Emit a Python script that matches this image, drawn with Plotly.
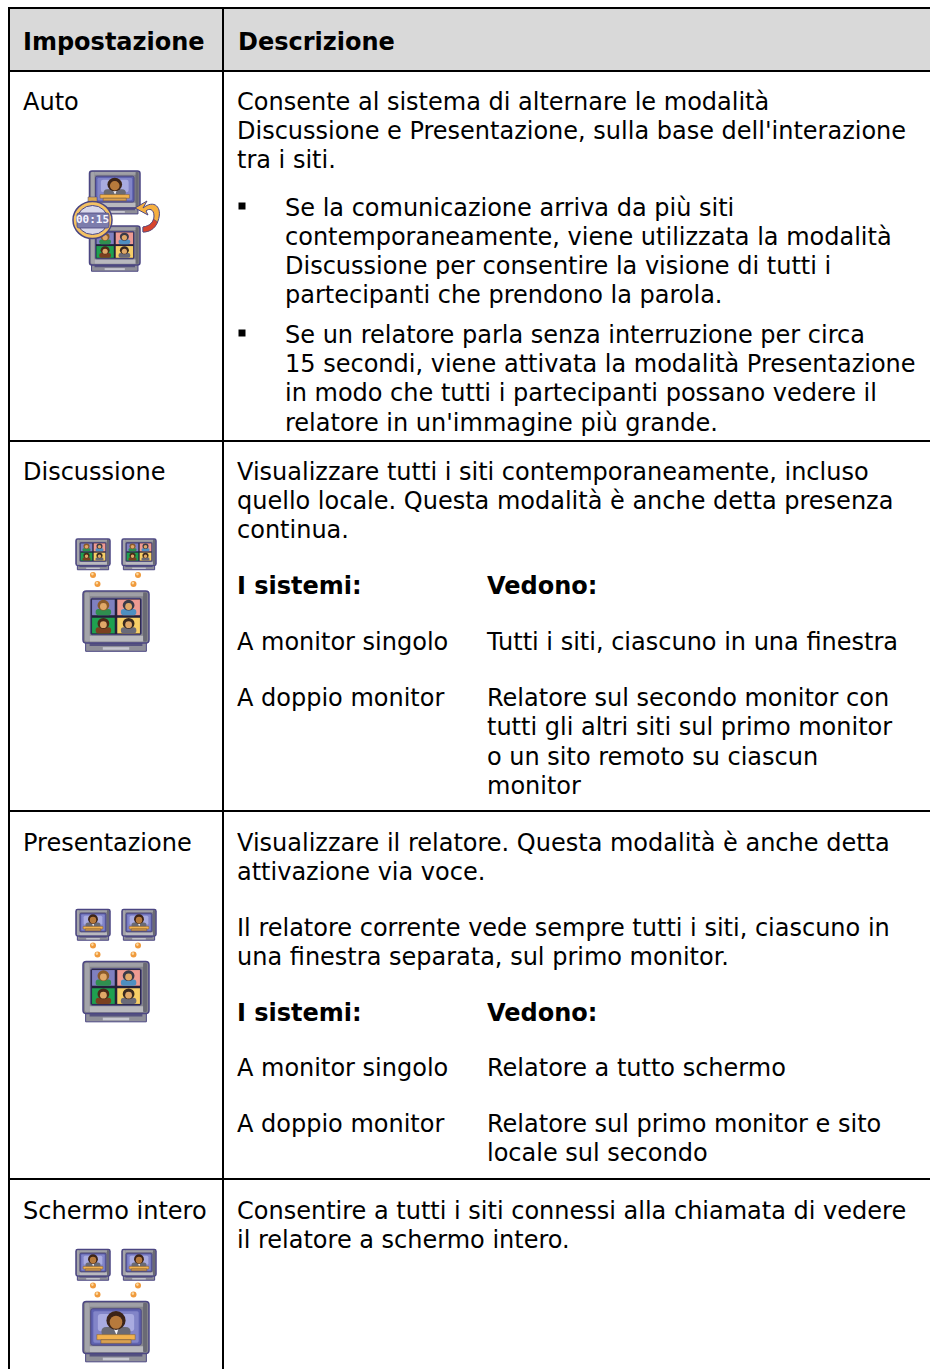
import plotly.graph_objects as go

W, H = 930, 1369
FONT = "DejaVu Sans"
SIZE = 24
TEXT_DY = 3.5

# --- table content -------------------------------------------------------
header_labels = ["Impostazione", "Descrizione"]
header_x = [23, 238]
header_y = [40, 40]

setting_labels = ["Auto", "Discussione", "Presentazione", "Schermo intero"]
setting_x = [23, 23, 23, 23]
setting_y = [100, 470, 841, 1209]

body_lines = [
    "Consente al sistema di alternare le modalità",
    "Discussione e Presentazione, sulla base dell'interazione",
    "tra i siti.",
    "Visualizzare tutti i siti contemporaneamente, incluso",
    "quello locale. Questa modalità è anche detta presenza",
    "continua.",
    "Visualizzare il relatore. Questa modalità è anche detta",
    "attivazione via voce.",
    "Il relatore corrente vede sempre tutti i siti, ciascuno in",
    "una finestra separata, sul primo monitor.",
    "Consentire a tutti i siti connessi alla chiamata di vedere",
    "il relatore a schermo intero.",
    "A monitor singolo", "A doppio monitor",
    "A monitor singolo", "A doppio monitor",
]
body_x = [237] * 16
body_y = [100, 129, 158, 470, 499, 528, 841, 870, 926, 955, 1209, 1238, 640, 696, 1066, 1122]

bullet_lines = [
    "Se la comunicazione arriva da più siti",
    "contemporaneamente, viene utilizzata la modalità",
    "Discussione per consentire la visione di tutti i",
    "partecipanti che prendono la parola.",
    "Se un relatore parla senza interruzione per circa",
    "15 secondi, viene attivata la modalità Presentazione",
    "in modo che tutti i partecipanti possano vedere il",
    "relatore in un'immagine più grande.",
]
bullet_x = [285] * 8
bullet_y = [206, 235, 264, 293, 333, 362, 391, 421]
bullet_mark_x = [242, 242]
bullet_mark_y = [206, 333]

see_lines = [
    "Tutti i siti, ciascuno in una finestra",
    "Relatore sul secondo monitor con",
    "tutti gli altri siti sul primo monitor",
    "o un sito remoto su ciascun",
    "monitor",
    "Relatore a tutto schermo",
    "Relatore sul primo monitor e sito",
    "locale sul secondo",
]
see_x = [487] * 8
see_y = [640, 696, 725, 755, 784, 1066, 1122, 1151]

sub_labels = ["I sistemi:", "Vedono:", "I sistemi:", "Vedono:"]
sub_x = [237, 487, 237, 487]
sub_y = [584, 584, 1011, 1011]

timer_label = ["00:15"]
timer_x = [92.5]
timer_y = [220.5]

# --- table rules ---------------------------------------------------------
h_rule_y = [8, 71, 441, 811, 1179]
v_rule_x = [9, 223]
RULE = "#000000"
HEADER_FILL = "#d9d9d9"

shapes = []


def rect(x0, y0, x1, y1, fill, line=None, lw=0, r=0):
    if r:
        p = (f"M{x0+r},{y0} L{x1-r},{y0} Q{x1},{y0} {x1},{y0+r} L{x1},{y1-r} Q{x1},{y1} {x1-r},{y1} "
             f"L{x0+r},{y1} Q{x0},{y1} {x0},{y1-r} L{x0},{y0+r} Q{x0},{y0} {x0+r},{y0} Z")
        s = dict(type="path", path=p)
    else:
        s = dict(type="rect", x0=x0, y0=y0, x1=x1, y1=y1)
    s.update(xref="x", yref="y", fillcolor=fill, layer="below",
             line=dict(color=line or fill, width=lw))
    shapes.append(s)


def circle(cx, cy, rx, ry, fill, line=None, lw=0):
    shapes.append(dict(type="circle", xref="x", yref="y", x0=cx-rx, x1=cx+rx, y0=cy-ry, y1=cy+ry,
                       fillcolor=fill, layer="below", line=dict(color=line or fill, width=lw)))


def poly(pts, fill, line=None, lw=0):
    p = "M" + " L".join(f"{x},{y}" for x, y in pts) + " Z"
    shapes.append(dict(type="path", xref="x", yref="y", path=p, fillcolor=fill, layer="below",
                       line=dict(color=line or fill, width=lw)))


EDGE = "#4b4682"
QUAD_FILL = ["#7f80c0", "#ee9a92", "#1fa050", "#f7cf66"]
HAIR = ["#8a5a2a", "#3a3a48", "#4a2a18", "#3a2a20"]
BODY = ["#2f8f4f", "#4f8fc0", "#7a4020", "#6a6a78"]


def presenter(x0, y0, x1, y1, skin="#b77a3c"):
    w, h = x1 - x0, y1 - y0
    cx = (x0 + x1) / 2
    rect(x0, y0, x1, y1, "#5f63b0", EDGE, 1, r=w * 0.04)
    rect(x0 + w * .05, y0 + h * .07, x1 - w * .05, y1 - h * .07, "#8285c8", r=w * .03)
    rect(x0 + w * .14, y0 + h * .14, x1 - w * .14, y0 + h * .62, "#a9abe0", r=w * .06)
    rect(cx - w * .29, y0 + h * .5, cx + w * .29, y0 + h * .76, "#6a6a74", r=w * .1)
    poly([(cx - w * .06, y0 + h * .5), (cx + w * .06, y0 + h * .5), (cx + w * .01, y0 + h * .72)], "#f2f2f8")
    circle(cx, y0 + h * .32, w * .19, h * .26, "#3c2418")
    circle(cx, y0 + h * .37, w * .125, h * .18, skin)
    rect(x0 + w * .12, y0 + h * .71, x1 - w * .12, y0 + h * .85, "#f2b24e", "#7a5a30", .5)
    rect(x0 + w * .2, y0 + h * .85, x1 - w * .2, y0 + h * .95, "#d9a050", "#6a5030", .5)


def quad(x0, y0, x1, y1):
    w, h = x1 - x0, y1 - y0
    rect(x0, y0, x1, y1, "#23203a", EDGE, 1, r=w * .03)
    g = w * .025
    mx, my = (x0 + x1) / 2, (y0 + y1) / 2
    cells = [(x0 + g, y0 + g, mx - g, my - g), (mx + g, y0 + g, x1 - g, my - g),
             (x0 + g, my + g, mx - g, y1 - g), (mx + g, my + g, x1 - g, y1 - g)]
    for i, (a, b, c, d) in enumerate(cells):
        rect(a, b, c, d, QUAD_FILL[i])
        cw, ch = c - a, d - b
        ccx = (a + c) / 2
        rect(ccx - cw * .34, b + ch * .6, ccx + cw * .34, d, BODY[i], r=cw * .12)
        circle(ccx, b + ch * .36, cw * .26, ch * .34, HAIR[i])
        circle(ccx, b + ch * .44, cw * .15, ch * .22, "#e0a868")


def monitor(x0, y0, x1, y1, kind):
    """Grey CRT: bezel with a faked horizontal gradient, stand, and a screen."""
    w, h = x1 - x0, y1 - y0
    rect(x0 + w * .04, y1 - .5, x1 - w * .04, y1 + h * .16, "#8f8f99", EDGE, 1)
    rect(x0 + w * .3, y1 + h * .08, x1 - w * .3, y1 + h * .13, "#c8c8d0")
    rect(x0 + w * .1, y1 - .5, x1 - w * .1, y1 + h * .06, "#55527f")
    rect(x0, y0, x1, y1, "#85858c", EDGE, 1.5, r=w * .05)
    rect(x0 + w * .03, y0 + h * .03, x0 + w * .1, y1 - h * .03, "#a4a4aa", r=w * .02)
    rect(x1 - w * .09, y0 + h * .03, x1 - w * .03, y1 - h * .03, "#6a6a74", r=w * .02)
    rect(x0 + w * .1, y1 - h * .14, x1 - w * .09, y1 - h * .03, "#b9b9be")
    rect(x0 + w * .1, y0 + h * .03, x1 - w * .09, y0 + h * .1, "#a0a0a6")
    sx0, sx1 = x0 + w * .118, x1 - w * .118
    sy0, sy1 = y0 + h * .14, y1 - h * .16
    if kind == "quad":
        quad(sx0, sy0, sx1, sy1)
    else:
        presenter(sx0, sy0, sx1, sy1)


def dot(cx, cy):
    circle(cx, cy, 3, 3, "#f09a3c")
    circle(cx - .6, cy - .9, 1.3, 1.3, "#fbd9a0")


def icon_row(top, small_kind, big_kind):
    for sx in (76, 122):
        monitor(sx, top, sx + 34, top + 26.5, small_kind)
    dot(93, top + 36)
    dot(97.5, top + 45)
    dot(138, top + 36)
    dot(133.5, top + 45)
    monitor(83, top + 52, 149, top + 104, big_kind)


# header band
rect(10, 9, 222, 70, HEADER_FILL)
rect(224, 9, W, 70, HEADER_FILL)

# rules
for y in h_rule_y:
    shapes.append(dict(type="line", xref="x", yref="y", x0=8, x1=W, y0=y, y1=y, layer="below",
                       line=dict(color=RULE, width=2)))
for x in v_rule_x:
    shapes.append(dict(type="line", xref="x", yref="y", x0=x, x1=x, y0=8, y1=H, layer="below",
                       line=dict(color=RULE, width=2)))

# Auto icon: two monitors, timer, and the return arrow
monitor(89.5, 171, 140, 208, "presenter")
monitor(89.5, 226, 140, 265, "quad")
shapes.append(dict(type="path", xref="x", yref="y", layer="below",
                   path="M143,208 C154,199 163,207 158,221 C155,229 149,232 143,232 L143,227 "
                   "C150,226 154,222 154,216 C154,209 149,208 146,211 L148,215 L135,208 L147,201 Z",
                   fillcolor="#f6b040", line=dict(color=EDGE, width=1)))
shapes.append(dict(type="path", xref="x", yref="y", layer="below",
                   path="M143,232 C149,232 155,229 157.5,222 L153.5,219 C152,224 149,226 143,227 Z",
                   fillcolor="#d8442c", line=dict(color=EDGE, width=.6)))
rect(88, 197, 97, 202, "#d9a850", EDGE, .5)
circle(92.5, 220, 19.5, 18.5, "#f4c262", EDGE, 1.5)
circle(92.5, 220, 15.5, 14.5, "#d8d8ea", EDGE, 1)
rect(77, 213, 109, 228, "#7c7cac", EDGE, .8, r=2)

icon_row(539, "quad", "quad")
icon_row(909.5, "presenter", "quad")
icon_row(1249.5, "presenter", "presenter")

fig = go.Figure()


def text_trace(name, xs, ys, labels, bold=False):
    fig.add_trace(go.Scatter(
        name=name, x=xs, y=[v + TEXT_DY for v in ys], text=labels, mode="text",
        textposition="middle right", hoverinfo="skip", showlegend=False,
        textfont=dict(family=FONT, size=SIZE, color="#000000",
                      weight="bold" if bold else "normal"),
    ))


text_trace("header", header_x, header_y, header_labels, bold=True)
text_trace("settings", setting_x, setting_y, setting_labels)
text_trace("body", body_x, body_y, body_lines)
text_trace("bullets", bullet_x, bullet_y, bullet_lines)
text_trace("see", see_x, see_y, see_lines)
text_trace("sub", sub_x, sub_y, sub_labels, bold=True)
fig.add_trace(go.Scatter(name="timer", x=timer_x, y=timer_y, text=timer_label, mode="text",
                         textposition="middle center", hoverinfo="skip", showlegend=False,
                         textfont=dict(family="DejaVu Sans Mono", size=11, color="#f4f4ff", weight="bold")))
fig.add_trace(go.Scatter(name="marks", x=bullet_mark_x, y=bullet_mark_y, mode="markers",
                         hoverinfo="skip", showlegend=False,
                         marker=dict(symbol="square", size=7, color="#000000")))

fig.update_layout(
    width=W, height=H, margin=dict(l=0, r=0, t=0, b=0), showlegend=False,
    paper_bgcolor="white", plot_bgcolor="white", shapes=shapes,
    xaxis=dict(range=[0, W], visible=False, fixedrange=True),
    yaxis=dict(range=[H, 0], visible=False, fixedrange=True),
)
fig.write_html("out.html", config=dict(displayModeBar=False),
               post_script="document.body.style.margin='0';document.body.style.overflow='hidden';")
